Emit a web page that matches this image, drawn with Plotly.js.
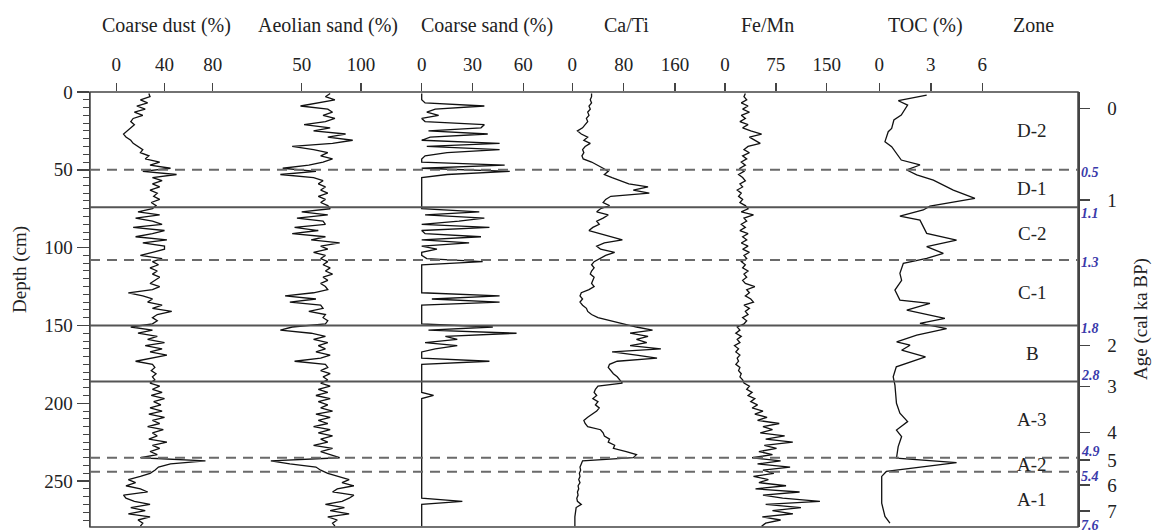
<!DOCTYPE html>
<html><head><meta charset="utf-8">
<script src="https://cdn.plot.ly/plotly-3.0.1.min.js"></script>
<style>html,body{margin:0;padding:0;background:#fff}#chart{width:1152px;height:532px}</style>
</head><body><div id="chart"></div>
<script>
// ---------- DATA ----------
const depth = [
  1,3,5,7,9,11,13,15,17,19,
  21,23,25,27,29,31,33,35,37,39,
  41,43,45,47,49,51,53,55,57,59,
  61,63,65,67,69,71,73,75,77,79,
  81,83,85,87,89,91,93,95,97,99,
  101,103,105,107,109,111,113,115,117,119,
  121,123,125,127,129,131,133,135,137,139,
  141,143,145,147,149,151,153,155,157,159,
  161,163,165,167,169,171,173,175,177,179,
  181,183,185,187,189,191,193,195,197,199,
  201,203,205,207,209,211,213,215,217,219,
  221,223,225,227,229,231,233,235,237,239,
  241,243,245,247,249,251,253,255,257,259,
  261,263,265,267,269,271,273,275,277,279];

const coarseDust = [
  27,28,20,26,17,24,15,22,14,12,
  15,12,9,6,8,12,14,18,22,20,
  27,24,36,28,45,22,50,30,38,30,
  36,28,34,31,36,29,33,30,18,36,
  16,30,38,14,40,30,16,42,22,40,
  40,30,20,38,30,35,28,34,30,36,
  32,28,36,30,10,22,30,26,38,30,
  46,34,30,34,30,12,30,18,34,26,
  40,24,38,28,42,30,16,30,32,29,
  33,30,32,28,36,30,38,29,40,31,
  37,28,38,27,40,30,36,26,39,30,
  34,27,42,30,36,28,34,20,74,45,
  35,32,28,20,10,16,8,20,26,6,
  8,15,28,12,24,10,28,18,22,20];

const aeolianSand = [
  74,70,78,62,49,72,76,68,78,70,
  52,74,60,87,72,93,76,42,60,72,
  66,76,68,56,34,62,32,60,68,64,
  70,66,72,64,70,66,72,74,50,72,
  46,68,70,44,64,42,70,58,82,66,
  72,60,70,66,72,68,74,70,76,68,
  72,66,70,72,60,36,62,40,66,68,
  56,70,68,72,70,42,32,58,70,60,
  72,64,70,62,74,66,44,70,72,66,
  74,68,72,66,74,64,72,62,74,64,
  72,66,76,62,74,64,72,60,74,64,
  76,66,72,60,76,66,74,82,24,40,
  62,66,72,80,90,84,94,80,76,94,
  90,84,70,86,74,90,72,80,76,78];

const coarseSand = [
  0,0,0,2,37,8,3,10,0,2,
  37,35,4,39,5,0,46,3,46,15,
  2,0,0,49,0,52,15,0,0,0,
  0,0,0,0,0,0,0,0,34,2,
  37,22,0,40,0,2,35,0,28,0,
  9,0,0,3,36,0,0,0,0,0,
  0,0,0,0,0,46,6,46,0,0,
  0,0,0,0,0,42,4,56,14,21,
  2,21,8,0,0,0,40,0,0,0,
  0,0,0,0,0,0,0,7,0,0,
  0,0,0,0,0,0,0,0,0,0,
  0,0,0,0,0,0,0,0,0,0,
  0,0,0,0,0,0,0,0,0,0,
  0,24,0,0,0,0,0,0,0,0];

const caTi = [
  30,30,28,30,26,28,24,26,22,24,
  20,16,8,14,24,18,28,20,16,18,
  15,17,30,40,48,56,50,62,75,88,
  118,95,120,60,52,48,58,44,38,56,
  48,38,42,32,26,44,62,78,50,38,
  44,66,52,42,34,30,34,30,28,34,
  32,30,34,26,14,12,16,12,16,22,
  24,30,40,60,82,100,125,90,118,100,
  116,90,138,62,100,132,70,58,56,60,
  64,70,74,78,40,36,34,38,32,40,
  36,42,38,30,24,18,20,24,44,48,
  50,58,56,66,64,84,100,95,16,14,
  12,13,11,12,10,12,9,10,8,9,
  7,8,14,6,5,5,4,4,4,4];

const feMn = [
  30,28,32,24,34,26,36,24,30,22,
  34,26,38,54,36,44,52,34,28,36,
  26,32,24,30,22,28,20,26,30,22,
  26,18,24,20,26,22,30,34,24,42,
  28,32,24,30,22,34,26,32,24,34,
  26,36,28,32,24,30,26,34,28,32,
  26,30,44,32,36,30,38,42,28,36,
  30,34,26,32,28,18,22,16,24,18,
  22,14,20,16,22,18,20,16,22,20,
  24,22,26,28,36,32,40,34,44,38,
  48,40,56,44,62,48,80,56,70,52,
  88,60,100,58,76,50,70,40,82,48,
  96,56,72,42,64,50,90,45,110,56,
  85,140,60,112,70,100,55,82,60,54];

const tocDepth = [2,5.6,8.4,14.8,18,23.4,25.5,31.9,35.1,43.7,
  46.9,50.1,53.3,56.6,63,68.3,73.3,75.8,79.7,82.3,
  90.8,95.1,99.4,103.7,106.9,110.1,116.5,121,127.3,133.7,
  135.8,140.1,145.5,148.7,152,156.2,160.5,162.7,165.9,170.2,
  176.6,183,188.3,200,206.4,211.8,217.2,221.4,227.8,235.3,
  238.2,243.8,247,264.2,272.7,277];
const toc = [2.76,1.11,1.65,1.28,0.85,0.72,0.52,0.33,0.72,1.28,
  2.37,1.6,2.18,3.15,4.31,5.57,2.95,2.56,1.2,2.37,
  2.76,4.5,2.76,3.73,2.76,1.4,1.2,1.3,0.91,1.2,
  2.95,1.6,3.82,2.37,3.92,2.18,1.01,1.79,1.3,2.69,
  0.99,0.81,0.91,1.0,1.2,1.65,1.0,1.3,1.1,1.0,
  4.5,0.41,0.14,0.14,0.33,0.62];

const panelTitles = ['Coarse dust (%)','Aeolian sand (%)','Coarse sand (%)','Ca/Ti','Fe/Mn','TOC (%)'];
const panelTicks = [[0,40,80],[50,100],[0,30,60],[0,80,160],[0,75,150],[0,3,6]];
const depthTicks = [0,50,100,150,200,250];

const boundaries = [50,74,108,150,186,235,244];
const boundaryKind = ['dash','solid','dash','solid','solid','dash','dash'];
const zoneNames = ['D-2','D-1','C-2','C-1','B','A-3','A-2','A-1'];
const coreBottom = 279.5;

const ageTickDepths = [10.5,69.5,163,189.3,218.9,236.5,252.6,269.3];
const ageTickLabels = ['0','1','2','3','4','5','6','7'];
const boundaryAges = ['0.5','1.1','1.3','1.8','2.8','4.9','5.4','7.6'];

// ---------- LAYOUT GEOMETRY ----------
const W = 1152, H = 532;
const L = 90, R = 1078, T = 92, B = 527;
const PW = R - L, PH = B - T;
const FONT = 'Liberation Serif, Times New Roman, serif';
const TXT = '#222';
const AX = '#444';
const px2paper = p => (p - L) / PW;
const py2paper = p => (B - p) / PH;

const panelEdges = [[90,245],[245,415],[415,560],[560,715],[715,865],[865,1000]];
const calib = [[0,116.3,80,212.7],[50,301.7,100,361],[0,421.7,60,523.3],[0,572.3,160,675],[0,725,150,826.7],[0,879.3,6,982.3]];
const titleCenters = [166.7,328,487,626,767,925];

const series = [coarseDust, aeolianSand, coarseSand, caTi, feMn];

const traces = [];
series.forEach((vals, i) => {
  traces.push({type:'scatter', mode:'lines', x: vals, y: depth,
    xaxis: i === 0 ? 'x' : 'x' + (i + 1), yaxis: 'y',
    line:{color:'#111', width:1.3}, hoverinfo:'skip', showlegend:false});
});
traces.push({type:'scatter', mode:'lines', x: toc, y: tocDepth, xaxis:'x6', yaxis:'y',
  line:{color:'#111', width:1.3}, hoverinfo:'skip', showlegend:false});
traces.push({type:'scatter', mode:'lines', x: [], y: [], xaxis:'x', yaxis:'y2', showlegend:false, hoverinfo:'skip'});

const layout = {
  width: W, height: H,
  margin: {l: L, r: W - R, t: T, b: H - B, pad: 0},
  paper_bgcolor: '#fff', plot_bgcolor: '#fff',
  showlegend: false,
  font: {family: FONT, size: 19, color: TXT},
  yaxis: {
    range: [coreBottom, 0], domain: [0, 1], anchor: 'x',
    tickvals: depthTicks, ticks: 'outside', ticklen: 12, tickwidth: 1.5, tickcolor: AX,
    minor: {dtick: 5, tick0: 0, ticks: 'outside', ticklen: 6, tickwidth: 1, tickcolor: AX},
    showline: true, linecolor: AX, linewidth: 1.5,
    showgrid: false, zeroline: false,
    tickfont: {family: FONT, size: 19, color: TXT}
  },
  yaxis2: {
    range: [coreBottom, 0], overlaying: 'y', side: 'right', anchor: 'free', position: 1,
    tickvals: ageTickDepths, ticktext: ageTickLabels,
    ticks: 'outside', ticklen: 10, tickwidth: 1.5, tickcolor: AX, ticklabelstandoff: 14,
    showline: true, linecolor: AX, linewidth: 1.5,
    showgrid: false, zeroline: false,
    tickfont: {family: FONT, size: 19, color: TXT}
  },
  shapes: [],
  annotations: []
};

panelEdges.forEach((e, i) => {
  const [a, pa, b, pb] = calib[i];
  const k = (pb - pa) / (b - a);
  const r0 = a + (e[0] - pa) / k, r1 = a + (e[1] - pa) / k;
  const key = i === 0 ? 'xaxis' : 'xaxis' + (i + 1);
  layout[key] = {
    domain: [px2paper(e[0]), px2paper(e[1])], range: [r0, r1],
    side: 'top', anchor: 'y',
    tickvals: panelTicks[i], ticks: 'outside', ticklen: 8, tickwidth: 1.5, tickcolor: AX,
    ticklabelstandoff: 4,
    showline: false, showgrid: false, zeroline: false,
    tickfont: {family: FONT, size: 19, color: TXT}
  };
  layout.annotations.push({xref:'paper', yref:'paper', x: px2paper(titleCenters[i]), y: 1,
    yanchor:'middle', xanchor:'center', yshift: T - 25, showarrow:false,
    text: panelTitles[i], font:{family: FONT, size: 20, color: TXT}});
});
layout.annotations.push({xref:'paper', yref:'paper', x: px2paper(1033), y: 1,
  yanchor:'middle', xanchor:'center', yshift: T - 25, showarrow:false,
  text:'Zone', font:{family: FONT, size: 20, color: TXT}});

layout.shapes.push({type:'rect', xref:'paper', yref:'paper', x0:0, x1:1, y0:0, y1:1,
  line:{color: AX, width:1.5}, fillcolor:'rgba(0,0,0,0)', layer:'above'});

boundaries.forEach((d, i) => {
  const solid = boundaryKind[i] === 'solid';
  layout.shapes.push({type:'line', xref:'paper', yref:'y', x0:0, x1:1, y0:d, y1:d,
    line: solid ? {color:'#555', width:2} : {color:'#6a6a6a', width:2, dash:'10px,7px'},
    layer:'above'});
});

const zoneEdges = [0].concat(boundaries, [coreBottom]);
zoneNames.forEach((z, i) => {
  layout.annotations.push({xref:'paper', yref:'y', x: px2paper(1032), y: (zoneEdges[i] + zoneEdges[i+1]) / 2,
    xanchor:'center', yanchor:'middle', showarrow:false, text: z,
    font:{family: FONT, size: 19, color: TXT}});
});

const ageShift = [-3, -6, -2, -3, 6, 6, -5, 2];
const ageDepths = boundaries.concat([coreBottom]);
boundaryAges.forEach((t, i) => {
  layout.annotations.push({xref:'paper', yref:'y', x: px2paper(1079), y: ageDepths[i],
    xanchor:'left', yanchor:'middle', yshift: ageShift[i], showarrow:false,
    text: '<b><i>' + t + '</i></b>', font:{family: FONT, size: 14, color:'#3a3aaa'}});
});

layout.annotations.push({xref:'paper', yref:'paper', x: px2paper(20), y: py2paper(270),
  xanchor:'center', yanchor:'middle', textangle:-90, showarrow:false,
  text:'Depth (cm)', font:{family: FONT, size: 19, color: TXT}});
layout.annotations.push({xref:'paper', yref:'paper', x: px2paper(1141), y: py2paper(319),
  xanchor:'center', yanchor:'middle', textangle:-90, showarrow:false,
  text:'Age (cal ka BP)', font:{family: FONT, size: 19, color: TXT}});

Plotly.newPlot('chart', traces, layout, {staticPlot: true, displayModeBar: false});
</script>
</body></html>
